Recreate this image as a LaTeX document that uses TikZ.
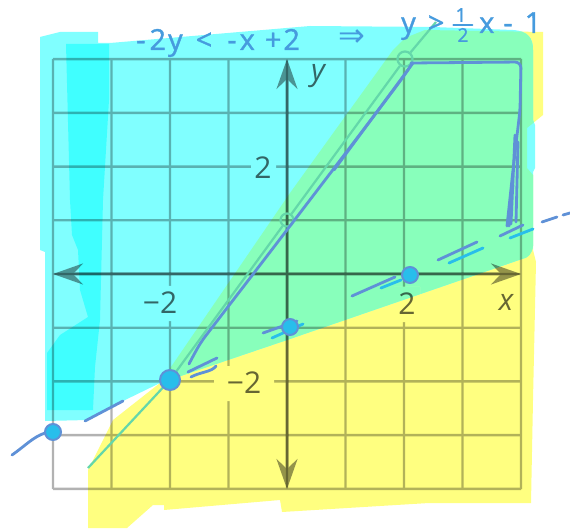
\documentclass[tikz,border=0pt]{standalone}
\usepackage{fontspec}
\setmainfont{Open Sans}
\newfontfamily\handfont[FakeBold=1.2]{Open Sans}
\newfontfamily\arrowfont{DejaVu Sans}
\usetikzlibrary{arrows.meta}
\definecolor{hlcyan}{RGB}{128,255,255}
\definecolor{hlcyandeep}{RGB}{64,255,255}
\definecolor{hlyellow}{RGB}{255,255,128}
\definecolor{hlgreen}{RGB}{136,255,187}
\definecolor{ink}{RGB}{95,145,215}
\definecolor{inklight}{RGB}{40,190,235}
\definecolor{writing}{RGB}{70,155,222}
\definecolor{ruler}{RGB}{100,215,170}
\tikzset{
  yellow area/.style={insert path={(88,528) -- (127,528) -- (153,505) -- (164,505) -- (164,510) -- (280,500) -- (282,512) -- (429,503) -- (531,503) -- (533,400) -- (536,262) -- (533,250) -- (533,175) -- (527,168) -- (527,128) -- (543,115) -- (543,32) -- (425,30) -- (405,38) -- (393,50) -- (290,193) -- (160,383) -- (113,420) -- (88,470) -- cycle}},
  cyan area/.style={insert path={(40,37) -- (60,32) -- (98,32) -- (98,43) -- (110,43) -- (310,26) -- (433,27) -- (513,30) .. controls (528,31) and (533,38) .. (533,50) -- (533,120) -- (535,125) -- (535,168) -- (533,172) -- (533,246) .. controls (532,254) and (528,258) .. (522,259) -- (287,340) -- (160,383) -- (123,401) -- (88,420) -- (45,421) -- (45,252) -- (40,250) -- cycle}},
  gridline/.style={line width=2.4pt,black},
  axisline/.style={line width=3pt,black,{Stealth[length=30pt,width=21pt,inset=10pt]}-{Stealth[length=30pt,width=21pt,inset=10pt]}},
  ticklabel/.style={font=\fontsize{30}{30}\selectfont,text=black,text opacity=0.6,inner sep=1pt},
  axislabel/.style={font=\fontsize{30}{30}\selectfont\itshape,text=black,text opacity=0.6,inner sep=1pt},
  penstroke/.style={ink,line width=2.8pt,line cap=round,line join=round},
  penpoint/.style={circle,draw=ink,line width=2pt,fill=inklight,minimum size=16pt,inner sep=0pt},
  rulerpoint/.style={circle,draw=ruler,line width=2.2pt,minimum size=15pt,inner sep=0pt},
  handtext/.style={font=\handfont\fontsize{29}{29}\selectfont,text=writing,inner sep=0pt},
  handsmall/.style={font=\handfont\fontsize{19}{19}\selectfont,text=writing,inner sep=0pt}
}
% the four highlighter layers
\newcommand\paintHighlights{%
  \fill[hlyellow,yellow area];
  \fill[hlcyan,cyan area];
  \begin{scope}
    \clip[yellow area];
    \fill[hlgreen,cyan area];
  \end{scope}
  \fill[hlcyandeep] (66,44) -- (109,44) -- (109,100) -- (103,200) -- (100,320) -- (95,367) -- (93,410) -- (47,410) -- (47,353) -- (60,335) -- (88,317) -- (80,290) -- (78,250) -- (72,235) -- (70,200) -- cycle;}
\begin{document}
\begin{tikzpicture}[x=1pt,y=-1pt]
\useasboundingbox[fill=white] (0,0) rectangle (570,529);
% highlighter
\paintHighlights
% textbook grid
\begin{scope}[transparency group,opacity=0.3]
  \foreach \i in {-4,...,4} {
    \draw[gridline] (287+58.5*\i,59) -- (287+58.5*\i,489);
    \draw[gridline] (53,274+53.7*\i) -- (521,274+53.7*\i);
  }
\end{scope}
\begin{scope}[transparency group,opacity=0.42]
  \draw[axisline] (53,274) -- (521,274);
  \draw[axisline] (287,59) -- (287,489);
\end{scope}
% label knockouts
\begin{scope}
  \clip (251,151) rectangle (276,186) (214,366) rectangle (274,401) (131,286) rectangle (188,321) (394,287) rectangle (420,322);
  \paintHighlights
\end{scope}
\node[ticklabel] (ytwo) at (263,168) {2};
\node[ticklabel] (ymtwo) at (244,383) {−2};
\node[ticklabel] (xmtwo) at (160,303) {−2};
\node[ticklabel] (xtwo) at (407,304) {2};
\node[axislabel] (xlbl) at (506,302) {x};
\node[axislabel] (ylbl) at (318,76) {y};
% ruler line
\node[rulerpoint] (rtop) at (405,59) {};
\node[rulerpoint,minimum size=13pt] (rmid) at (287,220) {};
\coordinate (rlow) at (88,468);
\coordinate (rend) at (436,22);
\coordinate (rcross) at (170,380);
\draw[ruler,line width=2.2pt] (rlow) -- (rcross) -- (rmid) -- (rtop) -- (rend);
% pen: region boundary
\draw[penstroke] plot[smooth] coordinates {(189,364) (200,344) (214,325) (290,226) (395,88) (412,63)};
\draw[penstroke] (334,170) -- (413,63);
\draw[penstroke,rounded corners=6pt] (411,63) -- (521,62) -- (520,110) -- (513,170) -- (507,226);
\draw[penstroke] (515,135) -- (511,224) (518,142) -- (516,222) (513,185) -- (509,226);
\draw[penstroke] (500,236) -- (523,225);
\draw[penstroke,inklight] (510,238) -- (533,229);
\draw[penstroke] (542,222) -- (557,217) (563,215) -- (570,213);
% pen: dashed line
\draw[penstroke] (12,455) .. controls (25,446) and (33,437) .. (45,433);
\draw[penstroke] (85,421) -- (123,401);
\draw[penstroke] (188,372) -- (217,358);
\draw[penstroke] (191,377) .. controls (200,372) and (212,372) .. (216,366);
\draw[penstroke] (263,333) -- (297,321);
\draw[penstroke,inklight] (272,338) -- (303,324);
\draw[penstroke] (352,296) -- (395,277);
\draw[penstroke,inklight] (381,288) -- (401,280);
\draw[penstroke] (438,260) -- (477,242);
\draw[penstroke,inklight] (449,263) -- (483,248);
% pen: points
\node[penpoint] (pfar) at (53,432) {};
\node[penpoint,minimum size=20pt] (pcross) at (rcross) {};
\node[penpoint] (pyint) at (290,327) {};
\node[penpoint] (pxint) at (410,275) {};
% handwriting
\node[handtext,anchor=base west] (ineqa) at (136,50) {-\hspace{4pt}2\hspace{2pt}y\hspace{13pt}<\hspace{15pt}-\hspace{3pt}x\hspace{10pt}+\hspace{2pt}2};
\node[handtext,font=\arrowfont\fontsize{32}{32}\selectfont] (implies) at (352,38) {⇒};
\node[handtext,anchor=base west] (ineqb) at (401,33) {y\hspace{12pt}>};
\node[handsmall] (fnum) at (461,15) {1};
\node[handsmall] (fden) at (463,35) {2};
\draw[writing,line width=2pt,line cap=round] (fnum.south west) ++(-2,3) -- ++(19,0);
\node[handtext,anchor=base west] (ineqc) at (479,33) {x\hspace{9pt}-\hspace{12pt}1};
\end{tikzpicture}
\end{document}
